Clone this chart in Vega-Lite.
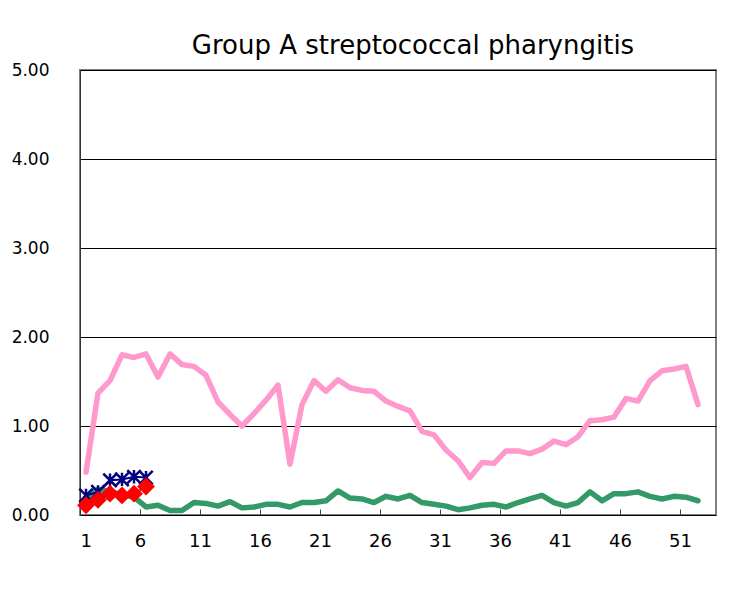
{
  "$schema": "https://vega.github.io/schema/vega-lite/v6.json",
  "width": 636,
  "height": 445,
  "autosize": {"type": "none"},
  "padding": {"left": 80, "top": 70, "right": 20, "bottom": 78},
  "background": "white",
  "title": {
    "text": "Group A streptococcal pharyngitis",
    "font": "DejaVu Sans",
    "fontSize": 26,
    "fontWeight": "normal",
    "color": "#000000",
    "anchor": "middle",
    "baseline": "alphabetic",
    "offset": 17,
    "dx": 15,
    "dy": 36
  },
  "config": {
    "view": {"stroke": "#808080", "strokeWidth": 2},
    "axis": {"labelFont": "DejaVu Sans", "labelColor": "#000000", "labelFontSize": 17}
  },
  "datasets": {
    "rows": [
      {"week": 1, "series": "Series 1", "value": 0.48},
      {"week": 2, "series": "Series 1", "value": 1.37},
      {"week": 3, "series": "Series 1", "value": 1.51},
      {"week": 4, "series": "Series 1", "value": 1.80},
      {"week": 5, "series": "Series 1", "value": 1.77},
      {"week": 6, "series": "Series 1", "value": 1.81},
      {"week": 7, "series": "Series 1", "value": 1.55},
      {"week": 8, "series": "Series 1", "value": 1.81},
      {"week": 9, "series": "Series 1", "value": 1.69},
      {"week": 10, "series": "Series 1", "value": 1.67},
      {"week": 11, "series": "Series 1", "value": 1.57},
      {"week": 12, "series": "Series 1", "value": 1.27},
      {"week": 13, "series": "Series 1", "value": 1.13},
      {"week": 14, "series": "Series 1", "value": 1.00},
      {"week": 15, "series": "Series 1", "value": 1.14},
      {"week": 16, "series": "Series 1", "value": 1.29},
      {"week": 17, "series": "Series 1", "value": 1.46},
      {"week": 18, "series": "Series 1", "value": 0.57},
      {"week": 19, "series": "Series 1", "value": 1.24},
      {"week": 20, "series": "Series 1", "value": 1.51},
      {"week": 21, "series": "Series 1", "value": 1.39},
      {"week": 22, "series": "Series 1", "value": 1.52},
      {"week": 23, "series": "Series 1", "value": 1.43},
      {"week": 24, "series": "Series 1", "value": 1.40},
      {"week": 25, "series": "Series 1", "value": 1.39},
      {"week": 26, "series": "Series 1", "value": 1.28},
      {"week": 27, "series": "Series 1", "value": 1.22},
      {"week": 28, "series": "Series 1", "value": 1.17},
      {"week": 29, "series": "Series 1", "value": 0.94},
      {"week": 30, "series": "Series 1", "value": 0.90},
      {"week": 31, "series": "Series 1", "value": 0.73},
      {"week": 32, "series": "Series 1", "value": 0.61},
      {"week": 33, "series": "Series 1", "value": 0.42},
      {"week": 34, "series": "Series 1", "value": 0.59},
      {"week": 35, "series": "Series 1", "value": 0.58},
      {"week": 36, "series": "Series 1", "value": 0.72},
      {"week": 37, "series": "Series 1", "value": 0.72},
      {"week": 38, "series": "Series 1", "value": 0.69},
      {"week": 39, "series": "Series 1", "value": 0.74},
      {"week": 40, "series": "Series 1", "value": 0.83},
      {"week": 41, "series": "Series 1", "value": 0.79},
      {"week": 42, "series": "Series 1", "value": 0.88},
      {"week": 43, "series": "Series 1", "value": 1.06},
      {"week": 44, "series": "Series 1", "value": 1.07},
      {"week": 45, "series": "Series 1", "value": 1.10},
      {"week": 46, "series": "Series 1", "value": 1.31},
      {"week": 47, "series": "Series 1", "value": 1.28},
      {"week": 48, "series": "Series 1", "value": 1.51},
      {"week": 49, "series": "Series 1", "value": 1.62},
      {"week": 50, "series": "Series 1", "value": 1.64},
      {"week": 51, "series": "Series 1", "value": 1.67},
      {"week": 52, "series": "Series 1", "value": 1.24},
      {"week": 1, "series": "Series 2", "value": 0.20},
      {"week": 2, "series": "Series 2", "value": 0.29},
      {"week": 3, "series": "Series 2", "value": 0.26},
      {"week": 4, "series": "Series 2", "value": 0.23},
      {"week": 5, "series": "Series 2", "value": 0.20},
      {"week": 6, "series": "Series 2", "value": 0.09},
      {"week": 7, "series": "Series 2", "value": 0.11},
      {"week": 8, "series": "Series 2", "value": 0.05},
      {"week": 9, "series": "Series 2", "value": 0.05},
      {"week": 10, "series": "Series 2", "value": 0.14},
      {"week": 11, "series": "Series 2", "value": 0.13},
      {"week": 12, "series": "Series 2", "value": 0.10},
      {"week": 13, "series": "Series 2", "value": 0.15},
      {"week": 14, "series": "Series 2", "value": 0.08},
      {"week": 15, "series": "Series 2", "value": 0.09},
      {"week": 16, "series": "Series 2", "value": 0.12},
      {"week": 17, "series": "Series 2", "value": 0.12},
      {"week": 18, "series": "Series 2", "value": 0.09},
      {"week": 19, "series": "Series 2", "value": 0.14},
      {"week": 20, "series": "Series 2", "value": 0.14},
      {"week": 21, "series": "Series 2", "value": 0.16},
      {"week": 22, "series": "Series 2", "value": 0.27},
      {"week": 23, "series": "Series 2", "value": 0.19},
      {"week": 24, "series": "Series 2", "value": 0.18},
      {"week": 25, "series": "Series 2", "value": 0.14},
      {"week": 26, "series": "Series 2", "value": 0.21},
      {"week": 27, "series": "Series 2", "value": 0.18},
      {"week": 28, "series": "Series 2", "value": 0.22},
      {"week": 29, "series": "Series 2", "value": 0.14},
      {"week": 30, "series": "Series 2", "value": 0.12},
      {"week": 31, "series": "Series 2", "value": 0.10},
      {"week": 32, "series": "Series 2", "value": 0.06},
      {"week": 33, "series": "Series 2", "value": 0.08},
      {"week": 34, "series": "Series 2", "value": 0.11},
      {"week": 35, "series": "Series 2", "value": 0.12},
      {"week": 36, "series": "Series 2", "value": 0.09},
      {"week": 37, "series": "Series 2", "value": 0.14},
      {"week": 38, "series": "Series 2", "value": 0.18},
      {"week": 39, "series": "Series 2", "value": 0.22},
      {"week": 40, "series": "Series 2", "value": 0.14},
      {"week": 41, "series": "Series 2", "value": 0.10},
      {"week": 42, "series": "Series 2", "value": 0.14},
      {"week": 43, "series": "Series 2", "value": 0.26},
      {"week": 44, "series": "Series 2", "value": 0.16},
      {"week": 45, "series": "Series 2", "value": 0.24},
      {"week": 46, "series": "Series 2", "value": 0.24},
      {"week": 47, "series": "Series 2", "value": 0.26},
      {"week": 48, "series": "Series 2", "value": 0.21},
      {"week": 49, "series": "Series 2", "value": 0.18},
      {"week": 50, "series": "Series 2", "value": 0.21},
      {"week": 51, "series": "Series 2", "value": 0.20},
      {"week": 52, "series": "Series 2", "value": 0.16},
      {"week": 1, "series": "Series 3", "value": 0.22},
      {"week": 2, "series": "Series 3", "value": 0.26},
      {"week": 3, "series": "Series 3", "value": 0.39},
      {"week": 4, "series": "Series 3", "value": 0.40},
      {"week": 5, "series": "Series 3", "value": 0.43},
      {"week": 6, "series": "Series 3", "value": 0.42},
      {"week": 1, "series": "Series 4", "value": 0.11},
      {"week": 2, "series": "Series 4", "value": 0.17},
      {"week": 3, "series": "Series 4", "value": 0.24},
      {"week": 4, "series": "Series 4", "value": 0.22},
      {"week": 5, "series": "Series 4", "value": 0.24},
      {"week": 6, "series": "Series 4", "value": 0.32}
    ]
  },
  "data": {"name": "rows"},
  "encoding": {
    "x": {
      "field": "week",
      "type": "quantitative",
      "scale": {"domain": [0.5, 53.5], "nice": false, "zero": false},
      "axis": {
        "title": null,
        "values": [0.5, 5.5, 10.5, 15.5, 20.5, 25.5, 30.5, 35.5, 40.5, 45.5, 50.5],
        "labelExpr": "format(datum.value + 0.5, 'd')",
        "grid": false,
        "domain": false,
        "ticks": true,
        "tickSize": -6,
        "tickColor": "#404040",
        "labelPadding": 23,
        "labelFontSize": 18
      }
    },
    "y": {
      "field": "value",
      "type": "quantitative",
      "scale": {"domain": [0, 5], "nice": false},
      "axis": {
        "title": null,
        "values": [0, 1, 2, 3, 4, 5],
        "format": ".2f",
        "grid": true,
        "gridColor": "#000000",
        "gridWidth": 1,
        "gridOpacity": 1,
        "ticks": false,
        "domain": true,
        "domainColor": "#333333",
        "domainWidth": 1,
        "labelAlign": "right",
        "labelPadding": 31,
        "labelFontSize": 17
      }
    },
    "color": {
      "field": "series",
      "type": "nominal",
      "scale": {
        "domain": ["Series 1", "Series 2", "Series 3", "Series 4"],
        "range": ["#FF99CC", "#339966", "#000080", "#FF0000"]
      },
      "legend": null
    }
  },
  "layer": [
    {
      "transform": [{"filter": "datum.series == 'Series 1' || datum.series == 'Series 2'"}],
      "mark": {"type": "line", "strokeWidth": 5.5, "strokeCap": "round", "strokeJoin": "round"}
    },
    {
      "transform": [{"filter": "datum.series == 'Series 3' || datum.series == 'Series 4'"}],
      "mark": {"type": "line", "strokeWidth": 2}
    },
    {
      "transform": [{"filter": "datum.series == 'Series 3'"}],
      "mark": {"type": "point", "shape": "M-1,-1L1,1M-1,1L1,-1M0,-1L0,1", "filled": false, "size": 180, "strokeWidth": 2.5, "opacity": 1}
    },
    {
      "transform": [{"filter": "datum.series == 'Series 4'"}],
      "mark": {"type": "point", "shape": "diamond", "filled": true, "size": 320, "opacity": 1}
    }
  ]
}
